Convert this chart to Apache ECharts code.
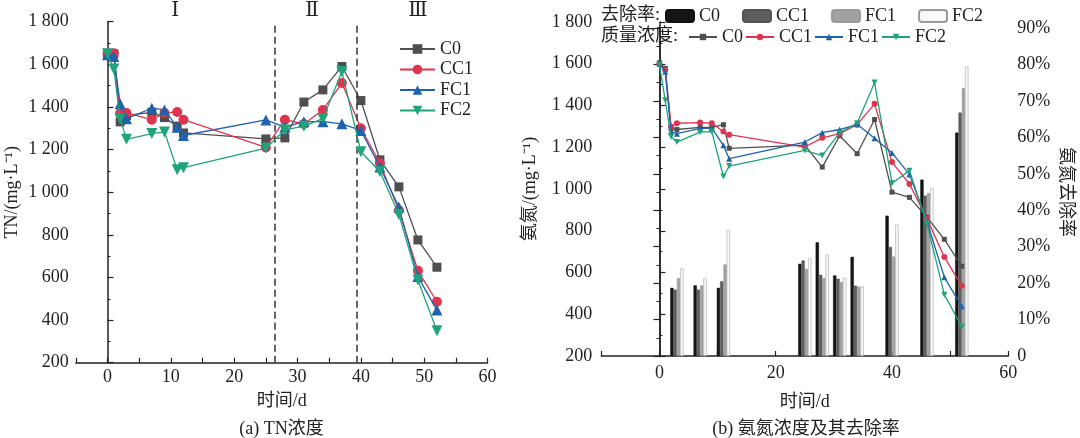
<!DOCTYPE html>
<html><head><meta charset="utf-8">
<script src="https://cdn.jsdelivr.net/npm/echarts@6/dist/echarts.min.js"></script>
<style>html,body{margin:0;padding:0;background:#fff}#c{width:1080px;height:438px}</style>
</head><body><div id="c"></div>
<script>
// ---------- data ----------
const days = [0,1,2,3,7,9,11,12,25,28,31,34,37,40,43,46,49,52];
// (a) TN concentration, mg/L
const tnC0  = [1650,1650,1330,1360,1375,1350,1310,1278,1250,1255,1423,1480,1590,1430,1152,1025,776,648];
const tnCC1 = [1650,1652,1370,1372,1340,1372,1376,1340,1210,1340,1320,1386,1512,1300,1136,915,632,486];
const tnFC1 = [1645,1637,1415,1345,1394,1386,1305,1266,1339,1305,1331,1331,1321,1290,1118,930,604,447];
const tnFC2 = [1650,1578,1345,1248,1275,1283,1105,1115,1207,1292,1310,1345,1566,1190,1097,895,588,350];
// (b) ammonia concentration, mg/L
const nhC0  = [1605,1578,1290,1285,1295,1295,1308,1195,1210,1105,1255,1169,1333,985,960,865,759,630];
const nhCC1 = [1600,1570,1300,1315,1318,1315,1275,1260,1201,1245,1265,1308,1408,1129,1024,858,674,536];
const nhFC1 = [1600,1562,1275,1265,1290,1292,1209,1145,1225,1270,1285,1310,1243,1173,1070,845,577,438];
const nhFC2 = [1595,1425,1250,1225,1272,1275,1060,1110,1185,1160,1270,1315,1510,1028,1088,835,494,340];
// (b) ammonia removal rate, %
const barDays  = [3,7,11,25,28,31,34,40,46,52];
const rateC0  = [18.7,19.4,18.7,25.3,31.2,22.1,27.2,38.5,48.4,61.3];
const rateCC1 = [18.2,18.2,20.5,26.2,22.3,21.2,19.3,29.9,44.0,66.8];
const rateFC1 = [21.4,19.4,25.1,23.9,21.4,20.3,19.0,27.3,44.7,73.5];
const rateFC2 = [24.0,21.4,34.5,26.9,27.8,21.4,19.1,36.0,46.1,79.4];
// annotations
const phaseDays = [26.4, 39.4];
const phaseLabels = ['Ⅰ','Ⅱ','Ⅲ'];
const phaseLabelDays = [10.7, 32.3, 49];
const names = ['C0','CC1','FC1','FC2'];
// ---------- styling ----------
const FONT = "'Liberation Serif','Noto Sans CJK SC',serif";
const TXT = '#222';
const colors = ['#4f4f4f','#e0344e','#1f62ad','#1fa37a'];
const symbols = ['rect','circle','triangle','triangle'];
const rotates = [0,0,0,180];
const barColors = ['#151515','#5e5e5e','#a2a2a2','#f7f7f7'];
const barBorders = ['#111','#555','#999','#9a9a9a'];

function zip(x, y){ return x.map((d,i)=>[d,y[i]]); }
function thou(v){ return v>=1000 ? Math.floor(v/1000)+' '+String(v%1000).padStart(3,'0') : String(v); }

const axisLineStyle = {lineStyle:{color:TXT,width:1.5}};
const labelStyle = {fontFamily:FONT,fontSize:18,color:TXT};

const tnSets = [tnC0,tnCC1,tnFC1,tnFC2];
const nhSets = [nhC0,nhCC1,nhFC1,nhFC2];
const rateSets = [rateC0,rateCC1,rateFC1,rateFC2];

const series = [];
tnSets.forEach((s,i)=>{
  const o = {name:names[i],type:'line',xAxisIndex:0,yAxisIndex:0,data:zip(days,s),
    symbol:symbols[i],symbolRotate:rotates[i],symbolSize:i===0?9:(i===1?10:11),
    lineStyle:{color:colors[i],width:1.3},itemStyle:{color:colors[i]},z:3+i};
  if(i===0){
    o.markLine={silent:true,symbol:['none','none'],label:{show:false},
      lineStyle:{type:[7,4],color:'#333',width:1.5},
      data:phaseDays.map(d=>({xAxis:d}))};
  }
  series.push(o);
});
rateSets.forEach((s,i)=>{
  series.push({name:'r-'+names[i],type:'bar',xAxisIndex:2,yAxisIndex:2,data:zip(barDays,s),
    barWidth:3.3,barGap:'0%',itemStyle:{color:barColors[i],borderColor:barBorders[i],borderWidth:0.5},z:2});
});
nhSets.forEach((s,i)=>{
  series.push({name:'b-'+names[i],type:'line',xAxisIndex:1,yAxisIndex:1,data:zip(days,s),
    symbol:symbols[i],symbolRotate:rotates[i],symbolSize:i===0?5:6,
    lineStyle:{color:colors[i],width:1.3},itemStyle:{color:colors[i]},z:5+i});
});

const strip = n => n.replace(/^[br]-/,'');

const option = {
  animation:false,
  backgroundColor:'#fff',
  grid:[
    {left:75.8,right:592.4,top:21.7,bottom:75.3},
    {left:601.3,right:71.7,top:22,bottom:82},
    {left:601.3,right:71.7,top:28,bottom:82}
  ],
  xAxis:[
    {gridIndex:0,type:'value',min:-5,max:60,interval:5,axisLine:axisLineStyle,
     axisTick:{inside:true,length:5,lineStyle:{color:TXT,width:1.2}},
     axisLabel:Object.assign({margin:6,formatter:v=>(v>=0&&v%10===0)?String(v):''},labelStyle),
     splitLine:{show:false},name:'时间/d',nameLocation:'middle',nameGap:30,nameTextStyle:labelStyle},
    {gridIndex:1,type:'value',min:-10,max:60,interval:10,axisLine:axisLineStyle,
     axisTick:{inside:true,length:5,lineStyle:{color:TXT,width:1.2}},
     axisLabel:Object.assign({margin:8,formatter:v=>(v>=0&&v%20===0)?String(v):''},labelStyle),
     splitLine:{show:false},name:'时间/d',nameLocation:'middle',nameGap:37,nameTextStyle:labelStyle},
    {gridIndex:2,type:'value',min:-10,max:60,show:false,splitLine:{show:false}}
  ],
  yAxis:[
    {gridIndex:0,type:'value',min:200,max:1800,interval:200,axisLine:Object.assign({show:true},axisLineStyle),
     axisTick:{inside:true,length:6,lineStyle:{color:TXT,width:1.2}},
     minorTick:{show:true,splitNumber:2,length:3,lineStyle:{color:TXT,width:1}},
     axisLabel:Object.assign({margin:7,formatter:thou},labelStyle),splitLine:{show:false},
     name:'TN/(mg·L⁻¹)',nameLocation:'middle',nameGap:55,nameTextStyle:labelStyle},
    {gridIndex:1,type:'value',min:200,max:1800,interval:200,axisLine:Object.assign({show:true},axisLineStyle),
     axisTick:{inside:true,length:6,lineStyle:{color:TXT,width:1.2}},
     minorTick:{show:true,splitNumber:2,length:3,lineStyle:{color:TXT,width:1}},
     axisLabel:Object.assign({margin:9,formatter:thou},labelStyle),splitLine:{show:false},
     name:'氨氮/(mg·L⁻¹)',nameLocation:'middle',nameGap:62,nameTextStyle:labelStyle},
    {gridIndex:2,type:'value',position:'right',min:0,max:90,interval:10,axisLine:Object.assign({show:true},axisLineStyle),
     axisTick:{inside:true,length:6,lineStyle:{color:TXT,width:1.2}},
     minorTick:{show:true,splitNumber:2,length:3,lineStyle:{color:TXT,width:1}},
     axisLabel:Object.assign({margin:9,formatter:v=>v===0?'0':v+'%'},labelStyle),splitLine:{show:false},
     name:'氨氮去除率',nameLocation:'middle',nameGap:48,nameRotate:-90,nameTextStyle:labelStyle}
  ],
  legend:[
    {orient:'vertical',left:394,top:35,itemWidth:35,itemHeight:12,itemGap:2.5,
     data:names,textStyle:labelStyle,selectedMode:false},
    {orient:'horizontal',left:660,top:2,itemWidth:28,itemHeight:12,itemGap:22,
     data:names.map(n=>'r-'+n),formatter:strip,textStyle:labelStyle,selectedMode:false},
    {orient:'horizontal',left:683,top:23,itemWidth:28,itemHeight:8,itemGap:2,
     data:names.map(n=>'b-'+n),formatter:strip,textStyle:labelStyle,selectedMode:false}
  ],
  series:series
};

const chart = echarts.init(document.getElementById('c'),null,{renderer:'canvas'});
chart.setOption(option);

const g = [
  {type:'text',left:601,top:6,style:{text:'去除率:',font:"18px "+FONT,fill:TXT}},
  {type:'text',left:601,top:27,style:{text:'质量浓度:',font:"18px "+FONT,fill:TXT}},
  {type:'text',x:281.5,y:429,style:{text:'(a) TN浓度',font:"18px "+FONT,fill:TXT,align:'center',verticalAlign:'middle'}},
  {type:'text',x:806,y:429,style:{text:'(b) 氨氮浓度及其去除率',font:"18px "+FONT,fill:TXT,align:'center',verticalAlign:'middle'}}
];
phaseLabels.forEach((t,i)=>{
  const px = chart.convertToPixel({xAxisIndex:0}, phaseLabelDays[i]);
  g.push({type:'text',x:px,y:11,style:{text:t,font:"20px 'DejaVu Serif','Noto Sans CJK SC'",fill:TXT,align:'center',verticalAlign:'middle'}});
});
chart.setOption({graphic:g});
</script>
</body></html>
